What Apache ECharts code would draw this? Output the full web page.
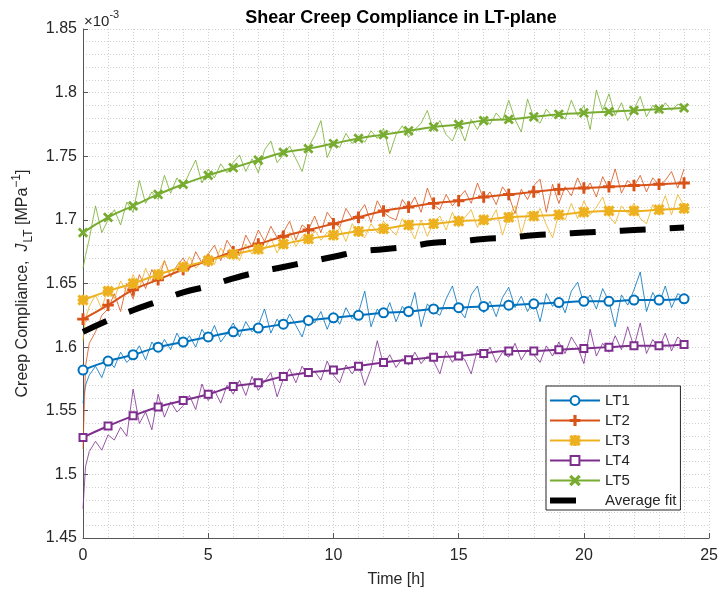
<!DOCTYPE html>
<html>
<head>
<meta charset="utf-8">
<script src="https://cdn.jsdelivr.net/npm/echarts@6/dist/echarts.min.js"></script>
<style>
  html, body { margin: 0; padding: 0; background: #fff; }
  #chart { width: 721px; height: 594px; }
</style>
</head>
<body>
<div id="chart"></div>
<script>
// values in units of 1e-3 MPa^-1
var hours = [0, 1, 2, 3, 4, 5, 6, 7, 8, 9, 10, 11, 12, 13, 14, 15, 16, 17, 18, 19, 20, 21, 22, 23, 24];

// fitted curves, one value per hour
var lt1Fit = [1.582, 1.589, 1.594, 1.600, 1.604, 1.608, 1.612, 1.615, 1.618, 1.621, 1.623, 1.625, 1.627, 1.628, 1.630, 1.631, 1.632, 1.633, 1.634, 1.635, 1.636, 1.636, 1.637, 1.637, 1.638];
var lt2Fit = [1.622, 1.633, 1.645, 1.653, 1.661, 1.668, 1.675, 1.681, 1.687, 1.692, 1.697, 1.702, 1.707, 1.710, 1.713, 1.715, 1.718, 1.720, 1.722, 1.724, 1.725, 1.726, 1.727, 1.728, 1.729];
var lt3Fit = [1.637, 1.644, 1.650, 1.657, 1.663, 1.668, 1.673, 1.677, 1.681, 1.685, 1.688, 1.691, 1.693, 1.696, 1.697, 1.699, 1.700, 1.702, 1.703, 1.704, 1.706, 1.707, 1.707, 1.708, 1.709];
var lt4Fit = [1.529, 1.538, 1.546, 1.553, 1.558, 1.563, 1.569, 1.572, 1.577, 1.580, 1.582, 1.585, 1.588, 1.590, 1.592, 1.593, 1.595, 1.597, 1.597, 1.598, 1.599, 1.600, 1.601, 1.601, 1.602];
var lt5Fit = [1.690, 1.702, 1.711, 1.720, 1.728, 1.735, 1.741, 1.747, 1.753, 1.756, 1.760, 1.764, 1.767, 1.770, 1.773, 1.775, 1.778, 1.779, 1.781, 1.783, 1.784, 1.785, 1.786, 1.787, 1.788];
var avgFit = [1.612, 1.621, 1.629, 1.636, 1.643, 1.648, 1.654, 1.659, 1.663, 1.667, 1.671, 1.675, 1.677, 1.679, 1.682, 1.683, 1.685, 1.686, 1.688, 1.689, 1.690, 1.691, 1.692, 1.693, 1.694];

// measured (noisy) data: t = 0, 0.1, then every quarter hour up to 24 h
var rawTime = [0, 0.1].concat(Array.from({ length: 96 }, function (_, i) { return (i + 1) * 0.25; }));

var lt1Raw = [1.556, 1.570,
  1.578, 1.585, 1.576, 1.590,  1.584, 1.596, 1.588, 1.593,  1.601, 1.590, 1.604, 1.597,  1.606, 1.598, 1.611, 1.602,
  1.609, 1.600, 1.614, 1.606,  1.617, 1.604, 1.611, 1.619,  1.608, 1.620, 1.612, 1.617,  1.630, 1.611, 1.622, 1.615,
  1.626, 1.617, 1.608, 1.624,  1.619, 1.628, 1.614, 1.626,  1.618, 1.631, 1.622, 1.627,  1.644, 1.616, 1.630, 1.623,
  1.635, 1.620, 1.632, 1.626,  1.643, 1.616, 1.634, 1.628,  1.625, 1.638, 1.648, 1.630,  1.623, 1.641, 1.648, 1.627,
  1.636, 1.624, 1.639, 1.647,  1.631, 1.640, 1.628, 1.637,  1.620, 1.642, 1.632, 1.639,  1.627, 1.644, 1.651, 1.634,
  1.641, 1.630, 1.646, 1.636,  1.616, 1.641, 1.633, 1.645,  1.659, 1.628, 1.643, 1.634,  1.648, 1.631, 1.642, 1.639];
var lt2Raw = [1.520, 1.585,
  1.603, 1.612, 1.625, 1.630,  1.642, 1.628, 1.650, 1.638,  1.657, 1.646, 1.661, 1.652,  1.668, 1.655, 1.664, 1.670,
  1.661, 1.675, 1.666, 1.673,  1.680, 1.668, 1.684, 1.676,  1.672, 1.688, 1.679, 1.692,  1.683, 1.695, 1.686, 1.690,
  1.699, 1.684, 1.696, 1.692,  1.703, 1.690, 1.706, 1.699,  1.694, 1.709, 1.701, 1.705,  1.712, 1.698, 1.715, 1.706,
  1.702, 1.700, 1.716, 1.709,  1.718, 1.706, 1.725, 1.712,  1.708, 1.720, 1.711, 1.717,  1.723, 1.713, 1.729, 1.716,
  1.722, 1.712, 1.726, 1.719,  1.705, 1.724, 1.716, 1.727,  1.732, 1.706, 1.728, 1.713,  1.726, 1.719, 1.733, 1.722,
  1.729, 1.718, 1.734, 1.724,  1.740, 1.721, 1.731, 1.726,  1.735, 1.722, 1.733, 1.727,  1.731, 1.738, 1.725, 1.740];
var lt3Raw = [1.605, 1.622,
  1.632, 1.641, 1.630, 1.647,  1.638, 1.652, 1.643, 1.657,  1.646, 1.662, 1.651, 1.659,  1.668, 1.655, 1.664, 1.660,
  1.671, 1.662, 1.667, 1.674,  1.665, 1.678, 1.670, 1.675,  1.668, 1.681, 1.673, 1.684,  1.677, 1.686, 1.674, 1.683,
  1.690, 1.679, 1.687, 1.682,  1.692, 1.684, 1.690, 1.686,  1.694, 1.683, 1.697, 1.689,  1.686, 1.697, 1.690, 1.699,
  1.693, 1.688, 1.701, 1.695,  1.685, 1.700, 1.687, 1.698,  1.703, 1.692, 1.706, 1.695,  1.702, 1.708, 1.694, 1.704,
  1.699, 1.708, 1.688, 1.703,  1.711, 1.689, 1.706, 1.700,  1.709, 1.696, 1.686, 1.705,  1.700, 1.713, 1.701, 1.715,
  1.704, 1.710, 1.718, 1.703,  1.697, 1.711, 1.705, 1.713,  1.701, 1.697, 1.712, 1.706,  1.719, 1.704, 1.720, 1.711];
var lt4Raw = [1.473, 1.506,
  1.518, 1.526, 1.519, 1.531,  1.527, 1.537, 1.530, 1.567,  1.540, 1.549, 1.535, 1.563,  1.545, 1.557, 1.549, 1.554,
  1.562, 1.551, 1.571, 1.558,  1.566, 1.556, 1.570, 1.563,  1.574, 1.562, 1.577, 1.566,  1.573, 1.580, 1.561, 1.575,
  1.583, 1.572, 1.585, 1.577,  1.581, 1.574, 1.589, 1.578,  1.572, 1.586, 1.579, 1.587,  1.570, 1.583, 1.605, 1.586,
  1.594, 1.584, 1.591, 1.586,  1.596, 1.587, 1.593, 1.589,  1.579, 1.597, 1.588, 1.595,  1.590, 1.579, 1.598, 1.591,
  1.600, 1.588, 1.596, 1.592,  1.603, 1.590, 1.598, 1.594,  1.588, 1.601, 1.593, 1.604,  1.595, 1.608, 1.600, 1.587,
  1.614, 1.593, 1.603, 1.596,  1.609, 1.598, 1.616, 1.600,  1.619, 1.595, 1.606, 1.599,  1.611, 1.597, 1.608, 1.603];
var lt5Raw = [1.662, 1.672,
  1.685, 1.711, 1.690, 1.700,  1.708, 1.696, 1.714, 1.706,  1.731, 1.713, 1.722, 1.716,  1.735, 1.721, 1.733, 1.726,
  1.737, 1.747, 1.729, 1.740,  1.733, 1.744, 1.737, 1.745,  1.751, 1.738, 1.748, 1.737,  1.755, 1.762, 1.745, 1.751,
  1.758, 1.748, 1.738, 1.757,  1.766, 1.778, 1.749, 1.760,  1.757, 1.768, 1.760, 1.766,  1.761, 1.770, 1.764, 1.772,
  1.752, 1.767, 1.774, 1.765,  1.771, 1.776, 1.786, 1.770,  1.778, 1.767, 1.762, 1.774,  1.762, 1.779, 1.771, 1.781,
  1.775, 1.784, 1.778, 1.794,  1.779, 1.769, 1.795, 1.780,  1.776, 1.787, 1.781, 1.785,  1.779, 1.794, 1.782, 1.790,
  1.771, 1.802, 1.786, 1.799,  1.782, 1.792, 1.778, 1.787,  1.797, 1.781, 1.790, 1.784,  1.792, 1.786, 1.791, 1.789];

var yTicks = [1.45, 1.5, 1.55, 1.6, 1.65, 1.7, 1.75, 1.8, 1.85];
var xTicks = [0, 5, 10, 15, 20, 25];

// matlab-like marker shapes
var plusPath = 'path://M4.35,0H5.65V4.35H10V5.65H5.65V10H4.35V5.65H0V4.35H4.35Z';
var crossPath = 'path://M1,0L5,4L9,0L10,1L6,5L10,9L9,10L5,6L1,10L0,9L4,5L0,1Z';
var starPath = 'path://M4.2,0H5.8V4.2H10V5.8H5.8V10H4.2V5.8H0V4.2H4.2ZM1.1,0L5,3.9L8.9,0L10,1.1L6.1,5L10,8.9L8.9,10L5,6.1L1.1,10L0,8.9L3.9,5L0,1.1Z';

var groups = [
  { name: 'LT1', color: '#0072BD', fit: lt1Fit, raw: lt1Raw, symbol: 'emptyCircle', size: 9 },
  { name: 'LT2', color: '#D95319', fit: lt2Fit, raw: lt2Raw, symbol: plusPath, size: 10 },
  { name: 'LT3', color: '#EDB120', fit: lt3Fit, raw: lt3Raw, symbol: starPath, size: 9 },
  { name: 'LT4', color: '#7E2F8E', fit: lt4Fit, raw: lt4Raw, symbol: 'emptyRect', size: 7 },
  { name: 'LT5', color: '#77AC30', fit: lt5Fit, raw: lt5Raw, symbol: crossPath, size: 8 }
];

function pairs(xs, ys) {
  return xs.map(function (x, i) { return [x, ys[i]]; });
}

var series = [];
groups.forEach(function (g) {
  series.push({
    name: g.name + ' data',
    type: 'line',
    data: pairs(rawTime, g.raw),
    showSymbol: false,
    silent: true,
    z: 1,
    lineStyle: { color: g.color, width: 1, opacity: 0.8 }
  });
});
groups.forEach(function (g) {
  series.push({
    name: g.name,
    type: 'line',
    data: pairs(hours, g.fit),
    smooth: true,
    symbol: g.symbol,
    symbolSize: g.size,
    z: 3,
    itemStyle: { color: g.color, borderColor: g.color, borderWidth: 1.6 },
    lineStyle: { color: g.color, width: 2 }
  });
});
series.push({
  name: 'Average fit',
  type: 'line',
  data: pairs(hours, avgFit),
  smooth: true,
  showSymbol: false,
  symbol: 'none',
  z: 4,
  itemStyle: { color: '#000' },
  lineStyle: { color: '#000', width: 6, type: [26, 24] }
});

var txt = '#262626';
var gridLine = { show: true, lineStyle: { color: '#cfcfcf', width: 1, type: [1, 2] } };

var myChart = echarts.init(document.getElementById('chart'));
var option = {
  backgroundColor: '#fff',
  animation: false,
  title: {
    text: 'Shear Creep Compliance in LT-plane',
    left: 396,
    top: 4,
    textAlign: 'center',
    textStyle: { fontFamily: 'Liberation Sans', fontSize: 18, fontWeight: 'bold', color: '#000' }
  },
  grid: { left: 83, right: 11, top: 29, bottom: 56 },
  legend: {
    data: ['LT1', 'LT2', 'LT3', 'LT4', 'LT5', {
      name: 'Average fit',
      itemStyle: { opacity: 0 },
      lineStyle: { color: '#000', width: 6, type: [26, 30] }
    }],
    orient: 'vertical',
    left: 546,
    top: 386,
    padding: [7, 4, 2, 1],
    itemWidth: 50,
    itemHeight: 11,
    itemGap: 5,
    borderColor: '#262626',
    borderWidth: 1,
    borderRadius: 0,
    backgroundColor: '#fff',
    selectedMode: false,
    textStyle: { fontFamily: 'Liberation Sans', fontSize: 15, color: txt, lineHeight: 15 }
  },
  xAxis: {
    type: 'value',
    min: 0,
    max: 25,
    interval: 5,
    name: 'Time [h]',
    nameLocation: 'middle',
    nameGap: 34,
    nameTextStyle: { fontFamily: 'Liberation Sans', fontSize: 16, color: txt },
    axisLine: { lineStyle: { color: '#555', width: 1 } },
    axisTick: { inside: true, length: 5, lineStyle: { color: '#555' } },
    axisLabel: {
      fontFamily: 'Liberation Sans', fontSize: 16, color: txt, margin: 10,
      formatter: function (v) { return xTicks.indexOf(v) >= 0 ? String(v) : ''; }
    },
    splitLine: gridLine,
    minorTick: { show: true, splitNumber: 5, length: 0 },
    minorSplitLine: gridLine
  },
  yAxis: {
    type: 'value',
    min: 1.45,
    max: 1.85,
    interval: 0.05,
    name: '{n|Creep Compliance,  }{i|J}{s|LT}{n| [MPa}{p|\u22121}{n|]}',
    nameLocation: 'middle',
    nameGap: 44,
    nameTextStyle: {
      fontFamily: 'Liberation Sans', color: txt,
      rich: {
        n: { fontFamily: 'Liberation Sans', fontSize: 16, color: txt, lineHeight: 24, verticalAlign: 'middle' },
        i: { fontFamily: 'Liberation Sans', fontSize: 16, fontStyle: 'italic', color: txt, lineHeight: 24, verticalAlign: 'middle' },
        s: { fontFamily: 'Liberation Sans', fontSize: 12, color: txt, lineHeight: 24, verticalAlign: 'bottom', padding: [0, 0, 0, 1] },
        p: { fontFamily: 'Liberation Sans', fontSize: 12, color: txt, lineHeight: 24, verticalAlign: 'top' }
      }
    },
    axisLine: { show: true, lineStyle: { color: '#555', width: 1 } },
    axisTick: { show: true, inside: true, length: 5, lineStyle: { color: '#555' } },
    axisLabel: {
      fontFamily: 'Liberation Sans', fontSize: 16, color: txt, margin: 6,
      formatter: function (v) {
        var r = Math.round(v * 100) / 100;
        return yTicks.indexOf(r) >= 0 ? String(r) : '';
      }
    },
    splitLine: gridLine,
    minorTick: { show: true, splitNumber: 5, length: 0 },
    minorSplitLine: gridLine
  },
  graphic: [{
    type: 'text',
    left: 84,
    top: 9,
    style: {
      text: '{a|\u00d710}{b|-3}',
      rich: {
        a: { fontFamily: 'Liberation Sans', fontSize: 15, fill: txt, lineHeight: 20, verticalAlign: 'bottom' },
        b: { fontFamily: 'Liberation Sans', fontSize: 11, fill: txt, lineHeight: 20, verticalAlign: 'top' }
      }
    }
  }],
  series: series
};
myChart.setOption(option);
</script>
</body>
</html>
